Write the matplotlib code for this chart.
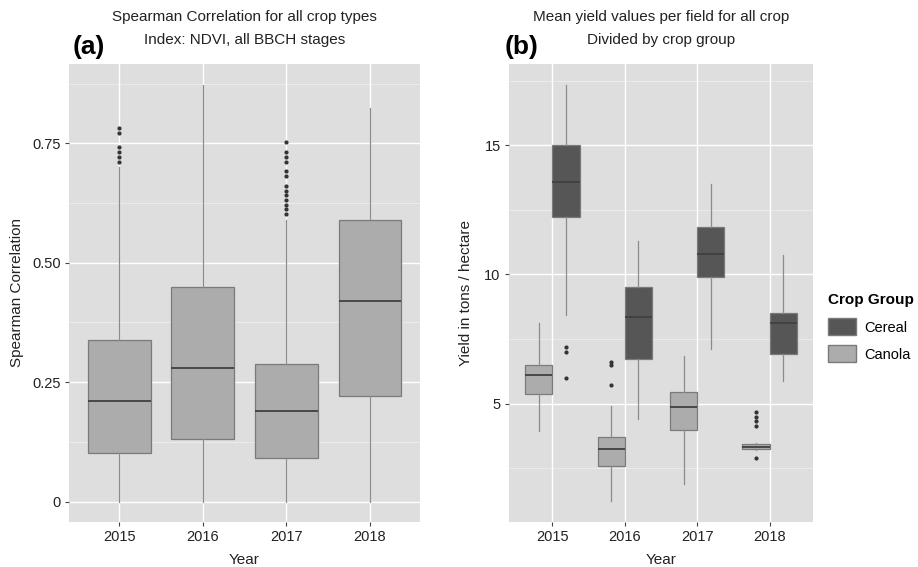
import matplotlib.pyplot as plt
from matplotlib.patches import Patch

plt.rcParams['font.family'] = ['Liberation Sans', 'DejaVu Sans']

years = ['2015', '2016', '2017', '2018']

# Spearman correlation per year (NDVI, all BBCH stages)
corr_whislo = [0.0, 0.0, 0.0, 0.0]
corr_q1 = [0.102, 0.131, 0.091, 0.222]
corr_med = [0.211, 0.280, 0.190, 0.420]
corr_q3 = [0.339, 0.450, 0.289, 0.590]
corr_whishi = [0.700, 0.872, 0.589, 0.823]
corr_fliers = [
    [0.781, 0.772, 0.742, 0.731, 0.721, 0.710],
    [],
    [0.752, 0.732, 0.722, 0.711, 0.691, 0.681, 0.661, 0.651, 0.641,
     0.631, 0.621, 0.612, 0.601],
    [],
]

# mean yield per field (t/ha), cereal vs canola
cereal_whislo = [8.42, 4.43, 7.13, 5.87]
cereal_q1 = [12.22, 6.72, 9.90, 6.94]
cereal_med = [13.59, 8.37, 10.78, 8.14]
cereal_q3 = [15.00, 9.51, 11.83, 8.52]
cereal_whishi = [17.34, 11.29, 13.49, 10.76]
cereal_fliers = [[7.20, 6.99, 6.01], [], [], []]

canola_whislo = [3.95, 1.24, 1.90, 3.20]
canola_q1 = [5.36, 2.60, 3.99, 3.27]
canola_med = [6.10, 3.26, 4.88, 3.33]
canola_q3 = [6.50, 3.73, 5.45, 3.46]
canola_whishi = [8.14, 4.92, 6.85, 3.50]
canola_fliers = [[], [6.62, 6.50, 5.74], [], [4.68, 4.49, 4.32, 4.14, 2.91]]

PANEL = '#dedede'
CEREAL = '#565656'
CANOLA = '#acacac'


def stats(lo, q1, med, q3, hi, fl):
    return [dict(whislo=a, q1=b, med=c, q3=d, whishi=e, fliers=f)
            for a, b, c, d, e, f in zip(lo, q1, med, q3, hi, fl)]


def draw_boxes(ax, st, pos, width, fill):
    ax.bxp(st, positions=pos, widths=width, patch_artist=True,
           showcaps=False, manage_ticks=False,
           boxprops=dict(facecolor=fill, edgecolor='#7a7a7a', linewidth=0.9),
           medianprops=dict(color='#404040', linewidth=1.3),
           whiskerprops=dict(color='#8c8c8c', linewidth=0.9),
           flierprops=dict(marker='o', markersize=2.0, markerfacecolor='#333333',
                           markeredgecolor='#333333', linestyle='none'),
           zorder=3)


def style(ax):
    ax.set_facecolor(PANEL)
    for s in ax.spines.values():
        s.set_visible(False)
    ax.grid(True, which='major', color='white', linewidth=1.0, zorder=0)
    ax.grid(True, which='minor', axis='y', color='white', linewidth=0.5,
            alpha=0.6, zorder=0)
    ax.set_axisbelow(True)
    ax.tick_params(axis='both', which='major', length=3, width=0.8,
                   color='#444444', labelsize=10.5, labelcolor='#222222', pad=3)
    ax.tick_params(axis='y', which='minor', length=0)
    ax.set_xlabel('Year', fontsize=11, color='#222222', labelpad=6)


def two_line_title(ax, top, bottom):
    # each title line placed on its own so the panel tag can sit beside it
    ax.text(0.5, 1.1026, top, transform=ax.transAxes, ha='center', va='center',
            fontsize=11, color='#222222')
    ax.text(0.5, 1.0524, bottom, transform=ax.transAxes, ha='center', va='center',
            fontsize=11, color='#222222')


fig = plt.figure(figsize=(9.18, 5.67), dpi=100)

# (a) correlation boxplots
ax1 = fig.add_axes([0.0752, 0.0794, 0.3824, 0.8078])
xs = [1, 2, 3, 4]
draw_boxes(ax1, stats(corr_whislo, corr_q1, corr_med, corr_q3, corr_whishi, corr_fliers),
           xs, 0.75, CANOLA)
ax1.set_xlim(0.4, 4.6)
ax1.set_ylim(-0.0425, 0.916)
ax1.set_xticks(xs)
ax1.set_xticklabels(years)
ax1.set_yticks([0, 0.25, 0.50, 0.75])
ax1.set_yticklabels(['0', '0.25', '0.50', '0.75'])
ax1.set_yticks([0.125, 0.375, 0.625, 0.875], minor=True)
style(ax1)
ax1.set_ylabel('Spearman Correlation', fontsize=11, color='#222222', labelpad=6)
two_line_title(ax1, 'Spearman Correlation for all crop types',
               'Index: NDVI, all BBCH stages')
fig.text(0.079, 0.917, '(a)', fontsize=19, fontweight='bold', va='center')

# (b) yield boxplots dodged by crop group
ax2 = fig.add_axes([0.5545, 0.0794, 0.3312, 0.8078])
draw_boxes(ax2, stats(canola_whislo, canola_q1, canola_med, canola_q3, canola_whishi,
                      canola_fliers),
           [x - 0.1875 for x in xs], 0.375, CANOLA)
draw_boxes(ax2, stats(cereal_whislo, cereal_q1, cereal_med, cereal_q3, cereal_whishi,
                      cereal_fliers),
           [x + 0.1875 for x in xs], 0.375, CEREAL)
ax2.set_xlim(0.4, 4.6)
ax2.set_ylim(0.43, 18.14)
ax2.set_xticks(xs)
ax2.set_xticklabels(years)
ax2.set_yticks([5, 10, 15])
ax2.set_yticks([2.5, 7.5, 12.5, 17.5], minor=True)
style(ax2)
ax2.set_ylabel('Yield in tons / hectare', fontsize=11, color='#222222', labelpad=8)
two_line_title(ax2, 'Mean yield values per field for all crop',
               'Divided by crop group')
fig.text(0.550, 0.917, '(b)', fontsize=19, fontweight='bold', va='center')

handles = [Patch(facecolor=CEREAL, edgecolor='#7a7a7a', label='Cereal'),
           Patch(facecolor=CANOLA, edgecolor='#7a7a7a', label='Canola')]
leg = fig.legend(handles=handles, title='Crop Group', loc='upper left',
                 bbox_to_anchor=(0.902, 0.483), frameon=False, fontsize=10.5,
                 title_fontproperties=dict(weight='bold', size=11),
                 handlelength=1.9, handleheight=1.4, handletextpad=0.6,
                 labelspacing=0.7, borderaxespad=0, borderpad=0)
leg._legend_box.align = 'left'
leg._legend_box.sep = 8

fig.savefig('out.png', dpi=100)
